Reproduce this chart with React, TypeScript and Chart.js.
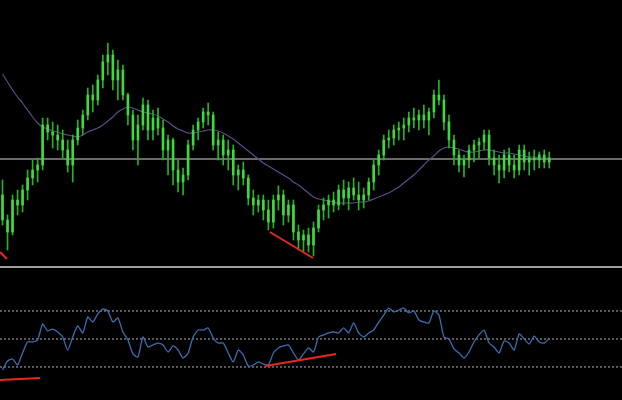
import React, { useEffect, useRef } from "react";
import { Chart, registerables } from "chart.js";

Chart.register(...registerables);

// Price units (arbitrary), one entry per candle
const OPEN = [
  70, 45, 33, 65, 60, 75, 87, 95, 100, 140,
  133, 130, 125, 115, 100, 125, 137, 150, 170, 165,
  185, 203, 210, 185, 195, 170, 150, 125, 140, 160,
  135, 147, 137, 115, 125, 95, 83, 90, 120, 135,
  143, 153, 150, 120, 125, 110, 115, 90, 95, 87,
  67, 60, 65, 55, 43, 65, 70, 50, 60, 33,
  25, 30, 20, 37, 55, 60, 65, 60, 75, 67,
  77, 70, 65, 70, 83, 100, 110, 125, 127, 135,
  137, 140, 147, 145, 150, 145, 153, 170, 165, 143,
  125, 110, 100, 105, 115, 120, 123, 130, 107, 100,
  95, 110, 100, 95, 115, 103, 107, 105, 110, 103,
];
const HIGH = [
  85, 50, 70, 75, 80, 95, 105, 107, 147, 147,
  143, 140, 135, 125, 130, 145, 155, 177, 180, 190,
  210, 222, 215, 205, 200, 172, 155, 150, 167, 165,
  155, 157, 145, 130, 127, 105, 97, 125, 140, 147,
  157, 162, 153, 133, 130, 125, 120, 100, 103, 90,
  75, 70, 70, 65, 70, 79, 75, 65, 65, 40,
  35, 37, 43, 60, 67, 70, 73, 80, 85, 83,
  87, 83, 77, 87, 105, 115, 130, 135, 140, 143,
  147, 153, 157, 155, 160, 157, 175, 185, 170, 150,
  130, 115, 110, 120, 125, 127, 135, 135, 115, 110,
  115, 117, 110, 120, 120, 113, 115, 113, 115, 113,
];
const LOW = [
  40, 15, 30, 50, 53, 65, 80, 83, 95, 125,
  117, 115, 107, 93, 83, 120, 130, 145, 153, 160,
  177, 190, 175, 165, 165, 140, 115, 100, 135, 125,
  125, 130, 105, 90, 80, 73, 70, 85, 115, 125,
  137, 140, 115, 105, 100, 95, 80, 75, 80, 60,
  50, 53, 45, 35, 37, 55, 40, 43, 25, 15,
  13, 13, 9, 33, 45, 47, 53, 55, 60, 55,
  65, 55, 57, 65, 75, 90, 105, 117, 120, 125,
  125, 133, 137, 135, 137, 130, 147, 160, 135, 117,
  100, 93, 88, 97, 103, 107, 115, 100, 90, 82,
  87, 93, 87, 90, 95, 90, 95, 97, 97, 97,
];
const CLOSE = [
  45, 33, 65, 60, 75, 87, 95, 100, 140, 133,
  130, 125, 115, 100, 125, 137, 150, 170, 165, 185,
  203, 210, 185, 195, 170, 150, 125, 140, 160, 135,
  147, 137, 115, 125, 95, 83, 90, 120, 135, 143,
  153, 150, 120, 125, 110, 115, 90, 95, 87, 67,
  60, 65, 55, 43, 65, 70, 50, 60, 33, 25,
  30, 20, 37, 55, 60, 65, 60, 75, 67, 77,
  70, 65, 70, 83, 100, 110, 125, 127, 135, 137,
  140, 147, 145, 150, 145, 153, 170, 165, 143, 125,
  110, 100, 105, 115, 120, 123, 130, 107, 100, 95,
  110, 100, 95, 115, 103, 107, 105, 110, 103, 107,
];
// Moving average
const MA = [
  191, 183, 175, 168, 162, 155, 148, 142, 138, 136,
  134, 133, 131, 130, 129, 128, 130, 133, 135, 137,
  140, 144, 148, 153, 156, 158, 157, 155, 153, 152,
  151, 149, 146, 143, 139, 136, 134, 132, 132, 133,
  134, 135, 135, 134, 132, 129, 126, 122, 118, 114,
  110, 106, 102, 99, 96, 93, 90, 87, 83, 80,
  76, 72, 68, 66, 65, 64, 63, 62, 62, 62,
  62, 63, 63, 64, 66, 68, 70, 72, 75, 78,
  82, 86, 90, 95, 100, 105, 109, 114, 117, 118,
  117, 116, 114, 113, 113, 114, 115, 115, 114, 113,
  112, 112, 111, 110, 109, 108, 108, 107, 107, 107,
];
// RSI oscillator
const RSI = [
  27.9, 34.3, 35.7, 31.4, 40.0, 47.9, 47.9, 49.3, 60.7, 55.7,
  57.1, 55.0, 51.4, 42.1, 51.4, 59.3, 54.3, 65.7, 62.1, 67.9,
  71.4, 70.0, 62.1, 65.0, 55.0, 49.3, 39.3, 37.1, 51.4, 44.3,
  45.7, 47.1, 45.7, 40.7, 45.0, 42.1, 36.4, 40.0, 51.4, 56.4,
  56.4, 57.9, 50.7, 47.1, 47.1, 40.0, 33.6, 42.1, 38.6, 30.7,
  31.4, 33.6, 32.1, 31.4, 40.0, 43.6, 45.0, 45.7, 40.0, 35.0,
  39.3, 43.6, 40.7, 51.4, 52.9, 54.3, 55.0, 54.3, 57.9, 54.3,
  61.4, 54.3, 51.4, 54.3, 56.4, 62.1, 67.1, 72.1, 69.3, 70.7,
  72.1, 68.6, 70.0, 63.6, 62.1, 61.4, 70.0, 67.1, 51.4, 50.0,
  42.9, 40.0, 36.4, 40.7, 47.9, 52.9, 56.4, 47.1, 44.3, 40.0,
  48.6, 47.1, 42.1, 53.6, 50.0, 46.4, 52.1, 47.9, 47.1, 50.7,
];

const PRICE_LEVEL = 106;
const RSI_LEVELS = [70, 50, 30];
// trend lines: [candle index, value] pairs
const PRICE_TRENDS = [
  [[-0.5, 13], [0.9, 6]],
  [[53.3, 33], [61.9, 7]],
];
const RSI_TRENDS = [
  [[-0.5, 20.7], [7.5, 22.1]],
  [[52.4, 30.7], [66.5, 39.3]],
];
const X_MIN = -0.5;
const X_MAX = 123.5;
const PRICE_MIN = 0;
const PRICE_MAX = 265;
const RSI_MIN = 6.4;
const RSI_MAX = 100;

export default function App() {
  const topRef = useRef<HTMLCanvasElement>(null);
  const botRef = useRef<HTMLCanvasElement>(null);

  useEffect(() => {
    document.body.style.margin = "0";
    document.body.style.background = "#000";
    const idx = OPEN.map((_, i) => i);
    const xScale: any = { type: "linear", min: X_MIN, max: X_MAX, display: false, offset: false };
    const commonOpts: any = {
      responsive: false,
      animation: false,
      events: [],
      layout: { padding: 0 },
      plugins: { legend: { display: false }, tooltip: { enabled: false } },
    };

    const trendSet = (t: number[][], order: number) => ({
      type: "line",
      data: t.map(([x, y]) => ({ x, y })),
      borderColor: "#e8271f",
      borderWidth: 2,
      pointRadius: 0,
      order,
    });

    const top = new Chart(topRef.current!, {
      type: "bar",
      data: {
        datasets: [
          ...PRICE_TRENDS.map((t) => trendSet(t, 0)),
          {
            type: "bar",
            data: idx.map((i) => ({ x: i, y: [OPEN[i], CLOSE[i]] })),
            backgroundColor: "#3fd93f",
            barThickness: 2,
            grouped: false,
            borderWidth: 0,
            order: 1,
          },
          {
            type: "bar",
            data: idx.map((i) => ({ x: i, y: [LOW[i], HIGH[i]] })),
            backgroundColor: "#24b424",
            barThickness: 1,
            grouped: false,
            borderWidth: 0,
            order: 2,
          },
          {
            type: "line",
            data: idx.map((i) => ({ x: i, y: MA[i] })),
            borderColor: "#5e4a86",
            borderWidth: 1.2,
            pointRadius: 0,
            tension: 0.3,
            order: 3,
          },
          {
            type: "line",
            data: [
              { x: X_MIN, y: PRICE_LEVEL },
              { x: X_MAX, y: PRICE_LEVEL },
            ],
            borderColor: "#8e8e8e",
            borderWidth: 1.5,
            pointRadius: 0,
            order: 4,
          },
        ] as any,
      },
      options: {
        ...commonOpts,
        scales: {
          x: xScale,
          y: { min: PRICE_MIN, max: PRICE_MAX, display: false },
        },
      },
    });

    const bot = new Chart(botRef.current!, {
      type: "line",
      data: {
        datasets: [
          ...RSI_TRENDS.map((t) => trendSet(t, 0)),
          {
            type: "line",
            data: idx.map((i) => ({ x: i, y: RSI[i] })),
            borderColor: "#3b6db0",
            borderWidth: 1.3,
            pointRadius: 0,
            tension: 0.2,
            order: 1,
          },
          ...RSI_LEVELS.map((lv) => ({
            type: "line",
            data: [
              { x: X_MIN, y: lv },
              { x: X_MAX, y: lv },
            ],
            borderColor: "#b4b4b4",
            borderWidth: 1,
            borderDash: [2, 2],
            pointRadius: 0,
            order: 2,
          })),
        ] as any,
      },
      options: {
        ...commonOpts,
        scales: {
          x: xScale,
          y: { min: RSI_MIN, max: RSI_MAX, display: false },
        },
      },
    });

    return () => {
      top.destroy();
      bot.destroy();
    };
  }, []);

  return (
    <div
      style={{
        position: "fixed",
        left: 0,
        top: 0,
        width: 622,
        height: 400,
        background: "#000",
        overflow: "hidden",
      }}
    >
      <canvas
        ref={topRef}
        width={622}
        height={265}
        style={{ position: "absolute", left: 0, top: 0, display: "block" }}
      />
      <div
        style={{
          position: "absolute",
          left: 0,
          top: 266,
          width: 622,
          height: 2,
          background: "#a0a0a0",
        }}
      />
      <canvas
        ref={botRef}
        width={622}
        height={131}
        style={{ position: "absolute", left: 0, top: 269, display: "block" }}
      />
    </div>
  );
}
